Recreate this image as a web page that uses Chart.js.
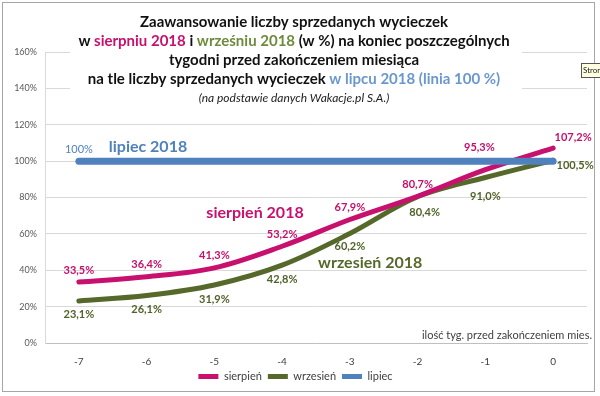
<!DOCTYPE html>
<html><head><meta charset="utf-8">
<script src="https://cdn.jsdelivr.net/npm/chart.js@4/dist/chart.umd.min.js"></script>
<style>html,body{margin:0;padding:0;background:#fff}#wrap{width:600px;height:396px;position:relative}</style>
</head><body><div id="wrap"><canvas id="c" width="600" height="396"></canvas></div>
<script>
const categories = ['-7','-6','-5','-4','-3','-2','-1','0'];
const sierpien = [33.5, 36.4, 41.3, 53.2, 67.9, 80.7, 95.3, 107.2];
const wrzesien = [23.1, 26.1, 31.9, 42.8, 60.2, 80.4, 91.0, 100.5];
const lipiec = [100, 100, 100, 100, 100, 100, 100, 100];
const seriesNames = ['sierpień', 'wrzesień', 'lipiec'];
const yTickMin = 0, yTickMax = 160, yTickStep = 20;

const MAG = '#C8106E', GRN = '#56692A', BLU = '#4F81BD';
const FONT = 'Lato, "Open Sans", sans-serif';

// label offsets (dx, dy in px) from each point
const labelOffsets = [
  [[0,-12],[0,-12],[0,-12],[0,-12],[0,-12],[0,-12],[-6,-22],[20,-11]],
  [[0,13],[0,14],[0,14],[0,14],[0,13],[7,16],[0,19],[22,5]],
  [[0,-12],null,null,null,null,null,null,null]
];
const labelColors = ['#C4106C', '#4F6228', '#4F81BD'];

const pctFmt = (v, i) => (i === 2 ? String(v) : v.toFixed(1).replace('.', ',')) + '%';

const overlay = {
  id: 'overlay',
  afterDatasetsDraw(chart) {
    const ctx = chart.ctx, xs = chart.scales.x, ys = chart.scales.y;
    ctx.save();
    chart.data.datasets.forEach((ds, i) => {
      const meta = chart.getDatasetMeta(i);
      meta.data.forEach((pt, j) => {
        const off = labelOffsets[i][j];
        if (!off) return;
        ctx.font = (i === 2 ? '' : 'bold ') + '11px ' + FONT;
        ctx.fillStyle = labelColors[i];
        ctx.textAlign = 'center'; ctx.textBaseline = 'middle';
        ctx.fillText(pctFmt(ds.data[j], i), pt.x + off[0], pt.y + off[1]);
      });
    });
    ctx.font = 'bold 16px ' + FONT;
    ctx.textAlign = 'center'; ctx.textBaseline = 'middle';
    ctx.fillStyle = BLU;
    ctx.fillText('lipiec 2018', xs.getPixelForValue(1.02), ys.getPixelForValue(107.8));
    ctx.fillStyle = MAG;
    ctx.fillText('sierpień 2018', xs.getPixelForValue(2.6), ys.getPixelForValue(71.6));
    ctx.fillStyle = GRN;
    ctx.fillText('wrzesień 2018', xs.getPixelForValue(4.3), ys.getPixelForValue(44.3));
    ctx.font = '11px ' + FONT;
    ctx.fillStyle = '#404040';
    ctx.textAlign = 'right';
    ctx.fillText('ilość tyg. przed zakończeniem mies.', chart.chartArea.right + 5, chart.chartArea.bottom - 8);
    ctx.restore();
  },
  afterDraw(chart) {
    const ctx = chart.ctx;
    ctx.save();
    ctx.fillStyle = '#fff';
    ctx.fillRect(70, 8, 452, 100);
    const lines = [
      [['Zaawansowanie liczby sprzedanych wycieczek', '#111']],
      [['w ', '#111'], ['sierpniu 2018', MAG], [' i ', '#111'], ['wrześniu 2018', '#6E8B3D'], [' (w %) na koniec poszczególnych', '#111']],
      [['tygodni przed zakończeniem miesiąca', '#111']],
      [['na tle liczby sprzedanych wycieczek ', '#111'], ['w lipcu 2018 (linia 100 %)', '#6A98CE']]
    ];
    const cx = 294;
    ctx.textBaseline = 'middle';
    ctx.textAlign = 'left';
    ctx.font = 'bold 15px ' + FONT;
    lines.forEach((segs, k) => {
      const y = 22 + k * 19;
      const w = segs.reduce((a, s) => a + ctx.measureText(s[0]).width, 0);
      let x = cx - w / 2;
      segs.forEach(s => { ctx.fillStyle = s[1]; ctx.fillText(s[0], x, y); x += ctx.measureText(s[0]).width; });
    });
    ctx.font = 'italic 12px ' + FONT;
    ctx.fillStyle = '#222';
    ctx.textAlign = 'center';
    ctx.fillText('(na podstawie danych Wakacje.pl S.A.)', cx, 98);
    ctx.strokeStyle = '#A6A6A6';
    ctx.lineWidth = 1;
    ctx.strokeRect(2.5, 2.5, 592, 389);
    ctx.fillStyle = '#FFFFE1';
    ctx.fillRect(581, 63, 19, 14);
    ctx.strokeStyle = '#555';
    ctx.strokeRect(581.5, 63.5, 20, 14);
    ctx.fillStyle = '#222';
    ctx.font = '8px ' + FONT;
    ctx.textAlign = 'left';
    ctx.fillText('Stron', 583, 70.5);
    ctx.restore();
  }
};

const yTicks = [];
for (let v = yTickMin; v <= yTickMax; v += yTickStep) yTicks.push(v);

new Chart(document.getElementById('c'), {
  type: 'line',
  data: {
    labels: categories,
    datasets: [
      { label: seriesNames[0], data: sierpien, borderColor: MAG, backgroundColor: MAG, borderWidth: 5, order: 1 },
      { label: seriesNames[1], data: wrzesien, borderColor: GRN, backgroundColor: GRN, borderWidth: 5, order: 2 },
      { label: seriesNames[2], data: lipiec, borderColor: BLU, backgroundColor: BLU, borderWidth: 7, order: 0, tension: 0 }
    ]
  },
  options: {
    responsive: false,
    animation: false,
    devicePixelRatio: 1,
    layout: { padding: { left: 4, right: 13, top: 52, bottom: 4 } },
    elements: {
      line: { tension: 0.35, borderCapStyle: 'round', borderJoinStyle: 'round' },
      point: { radius: 0, hoverRadius: 0 }
    },
    plugins: {
      legend: {
        position: 'bottom',
        labels: {
          boxWidth: 20, boxHeight: 5, padding: 6,
          color: '#404040', font: { family: FONT, size: 11 },
          sort: (a, b) => a.datasetIndex - b.datasetIndex,
          generateLabels: (chart) => chart.data.datasets.map((ds, i) => ({
            text: ds.label, fillStyle: ds.borderColor, strokeStyle: ds.borderColor, lineWidth: 0,
            hidden: false, datasetIndex: i, fontColor: '#404040'
          }))
        }
      },
      tooltip: { enabled: false }
    },
    scales: {
      x: {
        offset: true,
        grid: { display: false },
        border: { display: true, color: '#BFBFBF' },
        ticks: { color: '#404040', font: { family: FONT, size: 10 }, padding: 5 },
        afterFit: s => { s.height = 22; }
      },
      y: {
        min: yTickMin, max: yTickMax,
        afterBuildTicks: s => { s.ticks = yTicks.map(v => ({ value: v })); },
        ticks: { color: '#595959', font: { family: FONT, size: 9 }, callback: v => v + '%', padding: 8 },
        grid: { color: '#D9D9D9', drawTicks: false },
        border: { display: true, color: '#D9D9D9' },
        afterFit: s => { s.width = 41; }
      }
    }
  },
  plugins: [overlay]
});
</script>
</body></html>
